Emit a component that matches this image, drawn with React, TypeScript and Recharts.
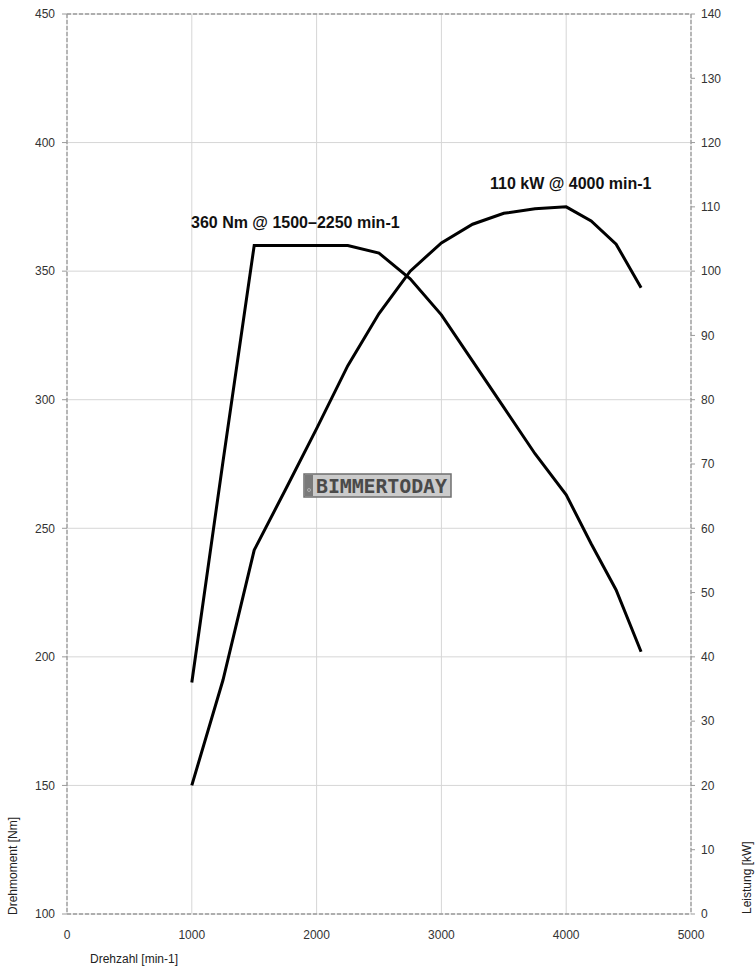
import { LineChart, Line, XAxis, YAxis, CartesianGrid, ReferenceLine } from "recharts";

// Engine speed sample points [min-1]
const RPM = [1000, 1250, 1500, 1750, 2000, 2250, 2500, 2750, 3000, 3250, 3500, 3750, 4000, 4200, 4400, 4600];
// Torque [Nm]
const TORQUE_NM = [190, 276, 360, 360, 360, 360, 357, 347, 333, 315, 297, 279, 263, 244, 226, 202];
// Power [kW]
const POWER_KW = [20, 36.4, 56.6, 66, 75.5, 85.3, 93.4, 100, 104.4, 107.3, 109, 109.7, 110, 107.8, 104.2, 97.4];

const RPM_TICKS = [0, 1000, 2000, 3000, 4000, 5000];
const RPM_GRID = [1000, 2000, 3000, 4000];
const TORQUE_TICKS = [100, 150, 200, 250, 300, 350, 400, 450];
const TORQUE_GRID = [150, 200, 250, 300, 350, 400];
const POWER_TICKS = [0, 10, 20, 30, 40, 50, 60, 70, 80, 90, 100, 110, 120, 130, 140];

const FONT = "'Liberation Sans', Arial, sans-serif";
const BORDER = "#9a9a9a";
const DASH = "4 2";

const tickStyle = { fill: "#333", fontSize: 12, fontFamily: FONT };

export default function App() {
  const data = RPM.map((rpm, i) => ({ rpm, torque: TORQUE_NM[i], power: POWER_KW[i] }));

  return (
    <div style={{ position: "absolute", left: 0, top: 0, width: 756, height: 972, background: "#fff" }}>
      <LineChart width={756} height={972} data={data} margin={{ top: 14, right: 0, bottom: 0, left: 0 }}>
        <YAxis
          yAxisId="left"
          orientation="left"
          type="number"
          domain={[100, 450]}
          ticks={TORQUE_TICKS}
          width={67}
          tick={tickStyle}
          tickSize={5}
          tickMargin={7}
          tickLine={{ stroke: BORDER }}
          axisLine={{ stroke: BORDER, strokeDasharray: DASH, strokeWidth: 1.3 }}
        />
        {/* hidden axes only feed the inner grid lines */}
        <XAxis xAxisId="grid" type="number" dataKey="rpm" domain={[0, 5000]} ticks={RPM_GRID} height={0} hide />
        <YAxis yAxisId="grid" type="number" domain={[100, 450]} ticks={TORQUE_GRID} width={0} allowDataOverflow hide />
        <CartesianGrid xAxisId="grid" yAxisId="grid" stroke="#d6d6d6" strokeWidth={1} />

        <XAxis
          type="number"
          dataKey="rpm"
          domain={[0, 5000]}
          ticks={RPM_TICKS}
          height={58}
          tick={tickStyle}
          tickLine={false}
          tickMargin={10}
          axisLine={{ stroke: BORDER, strokeDasharray: DASH, strokeWidth: 1.3 }}
        />
        <YAxis
          yAxisId="right"
          orientation="right"
          type="number"
          domain={[0, 140]}
          ticks={POWER_TICKS}
          width={65}
          tick={{ ...tickStyle, textAnchor: "start" }}
          tickSize={4}
          tickMargin={6}
          tickLine={{ stroke: BORDER }}
          axisLine={{ stroke: BORDER, strokeDasharray: DASH, strokeWidth: 1.3 }}
        />
        <ReferenceLine yAxisId="left" y={450} stroke={BORDER} strokeDasharray={DASH} strokeWidth={1.3} />

        <Line
          yAxisId="left"
          type="linear"
          dataKey="torque"
          stroke="#000"
          strokeWidth={3}
          dot={false}
          isAnimationActive={false}
        />
        <Line
          yAxisId="right"
          type="linear"
          dataKey="power"
          stroke="#000"
          strokeWidth={3}
          dot={false}
          isAnimationActive={false}
        />
      </LineChart>

      <svg
        width={756}
        height={972}
        style={{ position: "absolute", left: 0, top: 0, pointerEvents: "none" }}
      >
        <text x={191} y={228} fontFamily={FONT} fontSize={16} fontWeight="bold" fill="#111">
          360 Nm @ 1500–2250 min-1
        </text>
        <text x={490} y={189} fontFamily={FONT} fontSize={16} fontWeight="bold" fill="#111">
          110 kW @ 4000 min-1
        </text>

        <text x={90} y={963} fontFamily={FONT} fontSize={12} fill="#222">
          Drehzahl [min-1]
        </text>
        <text x={17} y={915} transform="rotate(-90 17 915)" fontFamily={FONT} fontSize={12} fill="#222">
          Drehmoment [Nm]
        </text>
        <text x={751} y={914} transform="rotate(-90 751 914)" fontFamily={FONT} fontSize={12} fill="#222">
          Leistung [kW]
        </text>

        {/* watermark */}
        <rect x={304} y={474} width={147} height={23} fill="#cbcbcb" stroke="#6f6f6f" strokeWidth={1.5} />
        <rect x={305} y={475} width={8} height={21} fill="#7a7a7a" />
        <circle cx={309} cy={490} r={1.5} fill="none" stroke="#bbb" strokeWidth={0.8} />
        <text
          x={316}
          y={493}
          fontFamily="'DejaVu Sans Mono', monospace"
          fontSize={20}
          fontWeight="bold"
          fill="#4a4a4a"
          textLength={131}
        >
          BIMMERTODAY
        </text>
      </svg>
    </div>
  );
}
